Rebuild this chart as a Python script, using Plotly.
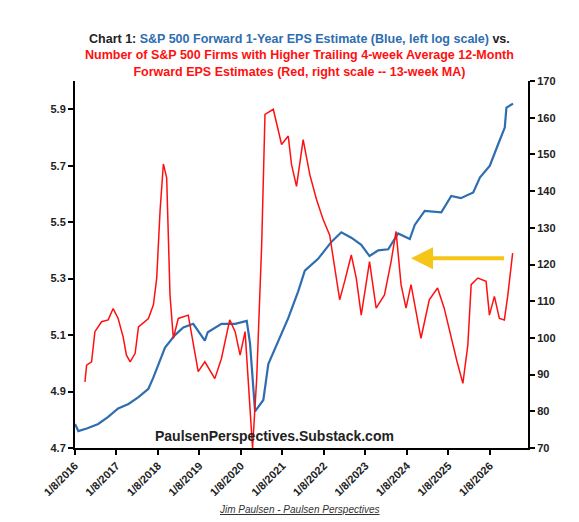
import plotly.graph_objects as go

blue_x = [2016.0,2016.08,2016.3,2016.56,2016.8,2017.04,2017.29,2017.53,2017.77,2017.89,2018.17,2018.41,2018.61,2018.85,2019.13,2019.2,2019.53,2019.86,2020.14,2020.22,2020.34,2020.54,2020.66,2020.9,2021.14,2021.38,2021.54,2021.86,2022.18,2022.42,2022.66,2022.9,2023.1,2023.31,2023.55,2023.79,2024.07,2024.19,2024.43,2024.83,2025.07,2025.3,2025.6,2025.76,2026.0,2026.2,2026.36,2026.4,2026.56]
blue_y = [4.785,4.76,4.77,4.785,4.81,4.84,4.856,4.88,4.91,4.95,5.056,5.10,5.127,5.14,5.08,5.11,5.14,5.14,5.15,5.07,4.83,4.87,4.997,5.08,5.16,5.255,5.328,5.37,5.43,5.464,5.445,5.42,5.38,5.40,5.404,5.46,5.44,5.49,5.54,5.535,5.593,5.585,5.605,5.658,5.70,5.776,5.835,5.906,5.92]

red_x = [2016.24,2016.28,2016.4,2016.48,2016.64,2016.8,2016.92,2017.04,2017.16,2017.24,2017.33,2017.45,2017.53,2017.77,2017.89,2017.97,2018.05,2018.13,2018.21,2018.29,2018.37,2018.49,2018.73,2018.85,2018.97,2019.13,2019.37,2019.53,2019.73,2019.86,2019.98,2020.1,2020.18,2020.28,2020.38,2020.5,2020.58,2020.78,2020.98,2021.14,2021.22,2021.34,2021.5,2021.66,2021.82,2021.98,2022.14,2022.22,2022.38,2022.5,2022.66,2022.78,2022.9,2023.1,2023.26,2023.46,2023.62,2023.74,2023.86,2023.98,2024.1,2024.22,2024.34,2024.54,2024.74,2024.9,2025.07,2025.21,2025.35,2025.47,2025.55,2025.71,2025.91,2025.99,2026.11,2026.23,2026.35,2026.43,2026.55]
red_y = [88.0,92.6,93.5,101.7,104.4,104.9,108,105.3,100.3,95.3,93.5,95.8,103,105.3,109,116.3,134.5,147.4,143.6,111.7,99.9,105.3,106.2,98,90.8,93.5,88.9,94.4,104.9,101.7,95.3,101.7,88.9,70,88.9,125.4,160.9,162.3,152.7,155,147.2,141.3,154,144.5,137.8,132.3,128,121.7,110.4,115.4,122.6,116.3,106.2,120.8,108.1,111.7,120.8,129,114.5,108.1,114.5,107.2,99.9,110.4,113.6,108.1,99.9,93.5,87.6,98.1,114.5,116.3,115.4,106.2,111.3,105.3,104.9,111.3,123.1]

years = list(range(2016, 2027))
year_labels = [f"<b>1/8/{y}</b>" for y in years]
left_ticks = [4.7, 4.9, 5.1, 5.3, 5.5, 5.7, 5.9]
left_labels = [f"<b>{v:.1f}</b>" for v in left_ticks]
right_ticks = list(range(70, 171, 10))
right_labels = [f"<b>{v}</b>" for v in right_ticks]

fig = go.Figure()
fig.add_trace(go.Scatter(x=blue_x, y=blue_y, mode="lines", line=dict(color="#2E6DB0", width=2.2), yaxis="y"))
fig.add_trace(go.Scatter(x=red_x, y=red_y, mode="lines", line=dict(color="#FF1010", width=1.5), yaxis="y2"))

tf = dict(family="Liberation Sans", size=11, color="#222")
ax = dict(showgrid=False, zeroline=False, showline=True, linecolor="black", linewidth=2,
          ticks="outside", tickcolor="black", tickwidth=2, ticklen=5, tickfont=tf)
fig.update_layout(
    width=579, height=522, showlegend=False,
    paper_bgcolor="white", plot_bgcolor="white",
    margin=dict(l=67, r=59, t=73, b=82),
    font=dict(family="Liberation Sans Narrow, Liberation Sans", color="black"),
    xaxis=dict(ax, range=[2016, 2026.92], tickvals=years, ticktext=year_labels, tickangle=-45),
    yaxis=dict(ax, range=[4.7, 6.0], tickvals=left_ticks, ticktext=left_labels),
    yaxis2=dict(ax, range=[70, 170], tickvals=right_ticks, ticktext=right_labels, overlaying="y", side="right"),
)
fig.add_annotation(xref="paper", yref="paper", x=0.5, y=1.0, yanchor="bottom", showarrow=False,
    xshift=-2,
    text=("<b>Chart 1: <span style='color:#2E6DB0'>S&P 500 Forward 1-Year EPS Estimate (Blue, left log scale)</span> vs.</b><br>"
          "<b><span style='color:#FF1010'>Number of S&P 500 Firms with Higher Trailing 4-week Average 12-Month</span></b><br>"
          "<b><span style='color:#FF1010'>Forward EPS Estimates (Red, right scale -- 13-week MA)</span></b>"),
    font=dict(family="Liberation Sans Narrow, Liberation Sans", size=12.5, color="#222"),
    align="center")
fig.add_annotation(xref="paper", yref="paper", x=0.44, y=0.005, yanchor="bottom", showarrow=False,
    text="<b>PaulsenPerspectives.Substack.com</b>",
    font=dict(family="Liberation Sans Narrow, Liberation Sans", size=14, color="#222"))
fig.add_annotation(xref="paper", yref="paper", x=0.5, y=0, yanchor="middle", yshift=-61, showarrow=False,
    xshift=-2,
    text="<i><u>Jim Paulsen - Paulsen Perspectives</u></i>",
    font=dict(family="Liberation Sans", size=10, color="#333"))
fig.add_annotation(xref="x", yref="y2", x=2024.1, y=121.7, ax=2026.38, ay=121.7, axref="x", ayref="y2",
    showarrow=True, arrowhead=2, arrowsize=1.1, arrowwidth=4, arrowcolor="#F5C518", text="")
fig.write_html("out.html")
